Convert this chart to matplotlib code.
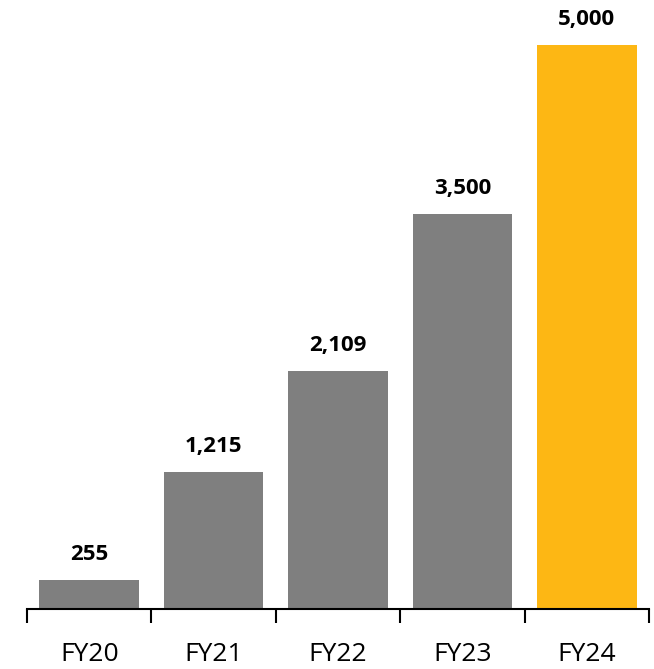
import matplotlib.pyplot as plt

categories = ["FY20", "FY21", "FY22", "FY23", "FY24"]
values = [255, 1215, 2109, 3500, 5000]
colors = ["#7f7f7f", "#7f7f7f", "#7f7f7f", "#7f7f7f", "#fdb714"]

plt.rcParams['font.family'] = ['Open Sans', 'DejaVu Sans']

fig = plt.figure(figsize=(6.54, 6.69), dpi=100)
ax = fig.add_axes([27 / 654, 1 - 609 / 669, 622 / 654, 564 / 669])

x = range(len(categories))
ax.bar(x, values, width=0.8, color=colors)

for i, v in enumerate(values):
    ax.annotate(f"{v:,}", (i, v), xytext=(0, 11), textcoords="offset points",
                ha="center", va="bottom", fontsize=16, fontweight="bold",
                annotation_clip=False)

ax.set_xlim(-0.5, len(categories) - 0.5)
ax.set_ylim(0, 5000)
ax.set_yticks([])

# category labels centred, tick marks at the boundaries
ax.set_xticks(list(x))
ax.set_xticklabels(categories, fontsize=19)
ax.tick_params(axis="x", which="major", length=0, pad=24)
ax.set_xticks([i - 0.5 for i in range(len(categories) + 1)], minor=True)
ax.tick_params(axis="x", which="minor", length=10, width=1.5, direction="out")

for s in ["top", "right", "left"]:
    ax.spines[s].set_visible(False)
ax.spines["bottom"].set_linewidth(1.5)

fig.savefig("out.png", dpi=100)
